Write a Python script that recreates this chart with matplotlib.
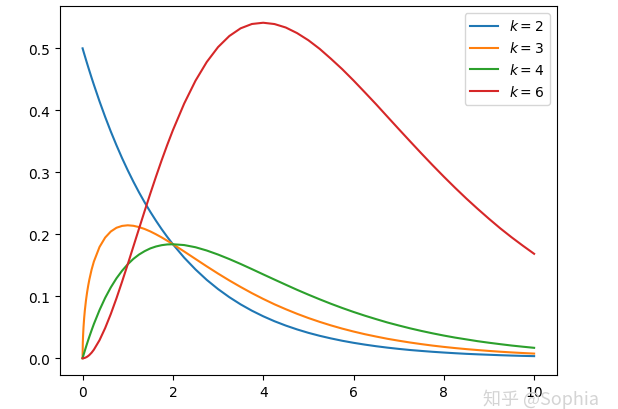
import matplotlib
matplotlib.use("Agg")
import matplotlib.pyplot as plt

x = [0, 0.005, 0.01, 0.02, 0.035, 0.05, 0.075, 0.1, 0.125, 0.15, 0.2, 0.25,
     0.375, 0.5, 0.625, 0.75, 0.875, 1,
     1.125, 1.25, 1.375, 1.5, 1.625, 1.75, 1.875,
     2, 2.25, 2.5, 2.75, 3, 3.25, 3.5, 3.75, 4, 4.25, 4.5, 4.75, 5,
     5.25, 5.5, 5.75, 6, 6.25, 6.5, 6.75, 7, 7.25, 7.5, 7.75, 8,
     8.25, 8.5, 8.75, 9, 9.25, 9.5, 9.75, 10]

k2 = [0.5, 0.4988, 0.4975, 0.495, 0.4913, 0.4877, 0.4816, 0.4756, 0.4697, 0.4639, 0.4524, 0.4413,
      0.4145, 0.3894, 0.3658, 0.3437, 0.3228, 0.3033,
      0.2849, 0.2676, 0.2514, 0.2362, 0.2219, 0.2084, 0.1958,
      0.1839, 0.1623, 0.1433, 0.1264, 0.1116, 0.0985, 0.0869, 0.0767, 0.0677, 0.0597, 0.0527, 0.0465, 0.0410,
      0.0362, 0.0320, 0.0282, 0.0249, 0.0220, 0.0194, 0.0171, 0.0151, 0.0133, 0.0118, 0.0104, 0.0092,
      0.0081, 0.0071, 0.0063, 0.0056, 0.0049, 0.0043, 0.0038, 0.0034]

k3 = [0.0, 0.0249, 0.0352, 0.0495, 0.0650, 0.0771, 0.0933, 0.1064, 0.1174, 0.1270, 0.1431, 0.1560,
      0.1795, 0.1947, 0.2045, 0.2105, 0.2135, 0.2145,
      0.2137, 0.2116, 0.2085, 0.2046, 0.2000, 0.1950, 0.1896,
      0.1840, 0.1722, 0.1602, 0.1482, 0.1366, 0.1255, 0.1150, 0.1050, 0.0957, 0.0870, 0.0791, 0.0717, 0.0649,
      0.0587, 0.0530, 0.0478, 0.0431, 0.0388, 0.0350, 0.0314, 0.0283, 0.0254, 0.0228, 0.0204, 0.0183,
      0.0164, 0.0147, 0.0132, 0.0118, 0.0105, 0.0094, 0.0084, 0.0075]

k4 = [0.0, 0.0012, 0.0025, 0.0050, 0.0086, 0.0122, 0.0181, 0.0238, 0.0294, 0.0348, 0.0452, 0.0552,
      0.0777, 0.0974, 0.1143, 0.1289, 0.1412, 0.1516,
      0.1603, 0.1673, 0.1728, 0.1772, 0.1803, 0.1824, 0.1836,
      0.1839, 0.1826, 0.1791, 0.1738, 0.1673, 0.1600, 0.1521, 0.1438, 0.1353, 0.1269, 0.1186, 0.1104, 0.1026,
      0.0951, 0.0879, 0.0811, 0.0747, 0.0687, 0.0631, 0.0577, 0.0529, 0.0483, 0.0441, 0.0402, 0.0366,
      0.0333, 0.0304, 0.0275, 0.0250, 0.0227, 0.0205, 0.0186, 0.0168]

k6 = [0.0, 0.0000, 0.0000, 0.0001, 0.0003, 0.0006, 0.0014, 0.0024, 0.0037, 0.0052, 0.0090, 0.0138,
      0.0291, 0.0487, 0.0714, 0.0966, 0.1236, 0.1516,
      0.1803, 0.2091, 0.2377, 0.2657, 0.2929, 0.3192, 0.3442,
      0.3679, 0.4109, 0.4477, 0.4780, 0.5020, 0.5199, 0.5323, 0.5393, 0.5413, 0.5392, 0.5336, 0.5246, 0.5131,
      0.4992, 0.4832, 0.4664, 0.4482, 0.4291, 0.4098, 0.3898, 0.3699, 0.3502, 0.3307, 0.3116, 0.2930,
      0.2750, 0.2576, 0.2410, 0.2250, 0.2096, 0.1952, 0.1816, 0.1685]

series = [(k2, r"$k=2$"), (k3, r"$k=3$"), (k4, r"$k=4$"), (k6, r"$k=6$")]

fig = plt.figure(figsize=(6.18, 4.10), dpi=100)
ax = fig.add_axes([0.0971, 0.0829, 0.8037, 0.9001])
for ys, lab in series:
    ax.plot(x, ys, label=lab)
ax.legend(loc="upper right")

fig.text(0.875, 0.027, "知乎 @Sophia", color="#d4d4d4", fontsize=13,
         ha="center", va="center", family=["Noto Sans CJK SC", "DejaVu Sans"])

fig.savefig("out.png", dpi=100)
